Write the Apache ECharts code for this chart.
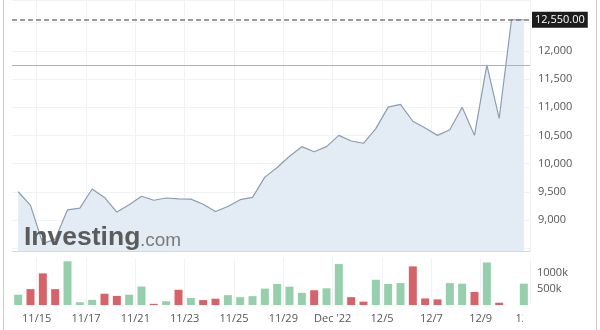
<!DOCTYPE html>
<html><head><meta charset="utf-8">
<script src="https://cdn.jsdelivr.net/npm/echarts@6/dist/echarts.min.js"></script>
<style>html,body{margin:0;padding:0;background:#fff}#c{width:600px;height:330px}</style>
</head><body><div id="c"></div>
<script>
// trading days, two bars per day
const days = ['11/14','11/15','11/16','11/17','11/18','11/21','11/22','11/23','11/24','11/25','11/28','11/29','11/30','12/1','12/2','12/5','12/6','12/7','12/8','12/9','12/12'];
const categories = days.flatMap(d => [d + ' AM', d + ' PM']);
const price = [9500, 9260, 8580, 8660, 9180, 9210, 9550, 9400, 9140, 9270, 9420, 9350, 9390, 9375, 9370, 9280, 9150, 9240, 9360, 9400, 9760, 9930, 10130, 10300, 10210, 10300, 10500, 10400, 10360, 10620, 11000, 11050, 10750, 10630, 10500, 10600, 11000, 10500, 11750, 10800, 12550, 12550];
const volumeK = [318, 490, 976, 490, 1348, 85, 158, 348, 279, 318, 570, 36, 115, 470, 218, 152, 194, 303, 242, 273, 506, 648, 566, 376, 455, 515, 1263, 242, 103, 779, 648, 676, 1191, 203, 173, 676, 658, 403, 1312, 70, 0, 658];
const volumeDir = ['u','d','d','d','u','u','u','d','d','u','u','d','u','d','u','d','d','u','u','u','u','u','u','u','d','u','u','d','d','u','u','u','d','d','d','u','u','d','u','d','u','u'];
const tickLabels = ['11/15','11/17','11/21','11/23','11/25','11/29',"Dec '22",'12/5','12/7','12/9','12/13'];
const lastPrice = 12550;
const refPrice = 11750;

// 22 slots on day boundaries (every trading day), labels on every second one
const slots = [];
for (let k = 0; k <= tickLabels.length * 2 - 1; k++) slots.push(k % 2 === 1 ? tickLabels[(k - 1) / 2] : '');

const PMIN = 8450, PMAX = 12900, PH = 251;
const labelH = PH * (PMAX - 8500) / (PMAX - PMIN);
const gridLine = '#f1f2f4';
const txt = '#555';
const FONT = 'Open Sans';
const RED = '#e69a9a';

const chart = echarts.init(document.getElementById('c'), null, {renderer: 'canvas'});
chart.setOption({
  animation: false,
  backgroundColor: '#fff',
  textStyle: {fontFamily: FONT},
  grid: [
    {left: 12, right: 70, top: 0, height: PH},
    {left: 12, right: 70, top: 0, height: labelH},
    {left: 12, right: 70, top: 258, height: 47}
  ],
  xAxis: [
    {gridIndex: 0, type: 'category', data: categories, boundaryGap: true,
     axisLine: {show: true, lineStyle: {color: '#d3d9e0'}}, axisTick: {show: false}, axisLabel: {show: false}, splitLine: {show: false}},
    {gridIndex: 0, type: 'category', data: slots, boundaryGap: false,
     axisLine: {show: false}, axisTick: {show: false}, axisLabel: {show: false},
     splitLine: {show: true, interval: (i, v) => v !== '', lineStyle: {color: gridLine}}},
    {gridIndex: 1, type: 'category', data: categories, show: false},
    {gridIndex: 2, type: 'category', data: categories, boundaryGap: true,
     axisLine: {show: false}, axisTick: {show: false}, axisLabel: {show: false}, splitLine: {show: false}},
    {gridIndex: 2, type: 'category', data: slots, boundaryGap: false, position: 'bottom',
     axisLine: {show: false}, axisTick: {show: false},
     axisLabel: {show: true, interval: (i, v) => v !== '', color: txt, fontSize: 11, margin: 8, fontFamily: FONT},
     splitLine: {show: true, interval: (i, v) => v !== '', lineStyle: {color: gridLine}}}
  ],
  yAxis: [
    {gridIndex: 0, type: 'value', min: PMIN, max: PMAX, show: false, splitLine: {show: false}},
    {gridIndex: 1, type: 'value', min: 8500, max: PMAX, interval: 500, position: 'right',
     axisLine: {show: false}, axisTick: {show: false},
     axisLabel: {color: txt, fontSize: 11, margin: 8, showMinLabel: false, showMaxLabel: false, fontFamily: FONT,
       formatter: v => v.toLocaleString('en-US')},
     splitLine: {show: true, lineStyle: {color: gridLine}}},
    {gridIndex: 2, type: 'value', min: 0, max: 1450, interval: 500, position: 'right',
     axisLine: {show: false}, axisTick: {show: false},
     axisLabel: {color: txt, fontSize: 11, margin: 7, showMinLabel: false, showMaxLabel: false, fontFamily: FONT,
       formatter: v => v + 'k'},
     splitLine: {show: false}}
  ],
  series: [
    {type: 'line', xAxisIndex: 0, yAxisIndex: 0, data: price, symbol: 'none', z: 2,
     lineStyle: {color: '#8d9cae', width: 1.2},
     areaStyle: {color: '#e3ecf5', opacity: 1, origin: 'start'},
     markLine: {silent: true, symbol: ['none', 'none'], animation: false,
       data: [
         {yAxis: lastPrice, lineStyle: {color: '#7a7a7a', type: [5, 3], width: 1.5},
          label: {show: true, position: 'end', distance: 2, formatter: lastPrice.toLocaleString('en-US', {minimumFractionDigits: 2}),
            color: '#fff', backgroundColor: '#1c1c1c', padding: [3, 3, 2, 3], fontSize: 11, fontFamily: FONT}},
         {yAxis: refPrice, lineStyle: {color: RED, type: 'solid', width: 1}, label: {show: false}}
       ]}},
    {type: 'bar', xAxisIndex: 3, yAxisIndex: 2, barWidth: 8,
     data: volumeK.map((v, i) => ({value: v, itemStyle: {color: volumeDir[i] === 'u' ? '#96cfab' : '#d6626a'}}))}
  ],
  graphic: [
    {type: 'rect', z: 100, shape: {x: 523, y: 309, width: 77, height: 21}, style: {fill: '#fff'}},
    {type: 'line', z: 101, shape: {x1: 3.5, y1: 0, x2: 3.5, y2: 330}, style: {stroke: '#cfcfcf', lineWidth: 1}},
    {type: 'line', z: 101, shape: {x1: 596.5, y1: 0, x2: 596.5, y2: 330}, style: {stroke: '#cfcfcf', lineWidth: 1}},
    {type: 'text', z: 102, style: {text: 'Investing', x: 24, y: 251, verticalAlign: 'bottom', fill: '#5b5b5b',
      font: 'bold 26.5px "Liberation Sans", Arial, sans-serif'}},
    {type: 'text', z: 102, style: {text: '.com', x: 140, y: 250, verticalAlign: 'bottom', fill: '#7a7a7a',
      font: '19px "Liberation Sans", Arial, sans-serif'}}
  ]
});
</script>
</body></html>
